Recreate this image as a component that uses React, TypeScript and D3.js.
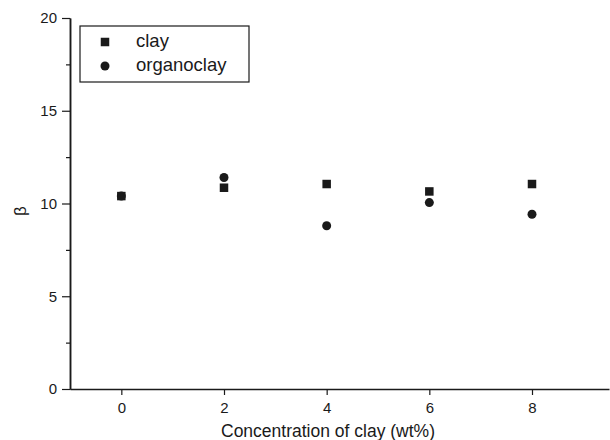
import React, { useRef, useEffect } from "react";
import * as d3 from "d3";

const concentrations = [0, 2, 4, 6, 8];
const clayValues = [10.4, 10.85, 11.05, 10.65, 11.05];
const organoclayValues = [10.4, 11.4, 8.8, 10.05, 9.42];
const xTicks = [0, 2, 4, 6, 8];
const yTicks = [0, 5, 10, 15, 20];
const yMinorTicks = [2.5, 7.5, 12.5, 17.5];

export default function App() {
  const svgRef = useRef<SVGSVGElement>(null);

  useEffect(() => {
    const svg = d3.select(svgRef.current);
    svg.selectAll("*").remove();
    const font = "'Liberation Sans', Arial, sans-serif";
    const ink = "#1a1a1a";

    const x = d3.scaleLinear().domain([-1, 9.5]).range([70, 609]);
    const y = d3.scaleLinear().domain([0, 20]).range([389, 18]);

    // axes
    const gx = svg
      .append("g")
      .attr("transform", `translate(0,${y(0)})`)
      .call(d3.axisBottom(x).tickValues(xTicks).tickSize(6).tickSizeOuter(0).tickPadding(7));
    const gy = svg
      .append("g")
      .attr("transform", `translate(${x(-1)},0)`)
      .call(d3.axisLeft(y).tickValues(yTicks).tickSize(8).tickSizeOuter(0).tickPadding(5));
    svg
      .append("g")
      .attr("transform", `translate(${x(-1)},0)`)
      .call(d3.axisLeft(y).tickValues(yMinorTicks).tickSize(4).tickSizeOuter(0).tickFormat(() => ""));

    svg.selectAll(".domain").attr("stroke", ink).attr("stroke-width", 1.5);
    svg.selectAll(".tick line").attr("stroke", ink).attr("stroke-width", 1.2);
    [gx, gy].forEach((g) =>
      g.selectAll("text").attr("font-family", font).attr("font-size", 15).attr("fill", ink)
    );

    // axis titles
    svg
      .append("text")
      .attr("x", 328)
      .attr("y", 437)
      .attr("text-anchor", "middle")
      .attr("font-family", font)
      .attr("font-size", 17.5)
      .attr("fill", ink)
      .text("Concentration of clay (wt%)");
    svg
      .append("text")
      .attr("transform", `translate(26,211) rotate(-90)`)
      .attr("text-anchor", "middle")
      .attr("font-family", font)
      .attr("font-size", 17)
      .attr("fill", ink)
      .text("β");

    // data
    const organo = concentrations.map((c, i) => ({ c, v: organoclayValues[i] }));
    const clay = concentrations.map((c, i) => ({ c, v: clayValues[i] }));

    svg
      .append("g")
      .selectAll("circle")
      .data(organo)
      .join("circle")
      .attr("cx", (d) => x(d.c))
      .attr("cy", (d) => y(d.v))
      .attr("r", 4.5)
      .attr("fill", ink);

    const sq = 8.5;
    svg
      .append("g")
      .selectAll("rect")
      .data(clay)
      .join("rect")
      .attr("x", (d) => x(d.c) - sq / 2)
      .attr("y", (d) => y(d.v) - sq / 2)
      .attr("width", sq)
      .attr("height", sq)
      .attr("fill", ink);

    // legend
    const legend = svg.append("g");
    legend
      .append("rect")
      .attr("x", 80)
      .attr("y", 26)
      .attr("width", 169)
      .attr("height", 56)
      .attr("fill", "white")
      .attr("stroke", ink)
      .attr("stroke-width", 1.2);
    legend
      .append("rect")
      .attr("x", 105 - sq / 2)
      .attr("y", 42 - sq / 2)
      .attr("width", sq)
      .attr("height", sq)
      .attr("fill", ink);
    legend.append("circle").attr("cx", 105).attr("cy", 66).attr("r", 4.5).attr("fill", ink);
    legend
      .selectAll("text")
      .data(["clay", "organoclay"])
      .join("text")
      .attr("x", 136)
      .attr("y", (d, i) => 47 + i * 24)
      .attr("font-family", font)
      .attr("font-size", 18.5)
      .attr("fill", ink)
      .text((d) => d);
  }, []);

  return (
    <svg
      ref={svgRef}
      width={610}
      height={440}
      style={{ position: "absolute", left: 0, top: 0, background: "white" }}
    ></svg>
  );
}
